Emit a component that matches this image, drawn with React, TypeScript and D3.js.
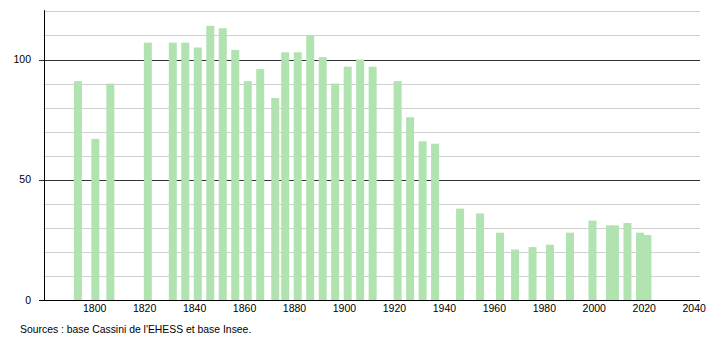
import React from "react";
import * as d3 from "d3";

const years = [1793, 1800, 1806, 1821, 1831, 1836, 1841, 1846, 1851, 1856, 1861, 1866, 1872, 1876, 1881, 1886, 1891, 1896, 1901, 1906, 1911, 1921, 1926, 1931, 1936, 1946, 1954, 1962, 1968, 1975, 1982, 1990, 1999, 2006, 2008, 2013, 2018, 2021];
const population = [91, 67, 90, 107, 107, 107, 105, 114, 113, 104, 91, 96, 84, 103, 103, 110, 101, 90, 97, 100, 97, 91, 76, 66, 65, 38, 36, 28, 21, 22, 23, 28, 33, 31, 31, 32, 28, 27];
const xTicks = [1800, 1820, 1840, 1860, 1880, 1900, 1920, 1940, 1960, 1980, 2000, 2020, 2040];
const yGrid = [10, 20, 30, 40, 50, 60, 70, 80, 90, 100, 110, 120];
const yLabels = [0, 50, 100];
const sourceText = "Sources : base Cassini de l'EHESS et base Insee.";

export default function App() {
  const W = 710, H = 340;
  const x = d3.scaleLinear().domain([1780, 2040]).range([44.7, 694.2]);
  const y = d3.scaleLinear().domain([0, 100]).range([300, 59.5]);
  const left = 44.5, right = 700;
  const barW = 8;
  const font = "'Liberation Sans', Arial, sans-serif";
  return (
    <svg width={W} height={H} style={{ position: "absolute", left: 0, top: 0, background: "#fff" }}>
      {yGrid.map((v) => (
        <line key={"g" + v} x1={v % 50 === 0 ? 39 : left} x2={right} y1={Math.round(y(v)) + 0.5} y2={Math.round(y(v)) + 0.5}
          stroke={v % 50 === 0 ? "#333" : "#cfcfcf"} strokeWidth={1} />
      ))}
      {years.map((yr, i) => (
        <rect key={yr} x={x(yr) - barW / 2 + 0.7} y={y(population[i])} width={barW} height={y(0) - y(population[i])} fill="#b1e3b1" />
      ))}
      <line x1={left} x2={left} y1={y(120.5)} y2={300.5} stroke="#000" strokeWidth={1} />
      <line x1={39} x2={right} y1={300.5} y2={300.5} stroke="#000" strokeWidth={1} />
      {yLabels.map((v) => (
        <text key={"yl" + v} x={31} y={y(v)} dy="0.35em" textAnchor="end" fontFamily={font} fontSize={10.5} fill="#000">{v}</text>
      ))}
      {xTicks.map((t) => (
        <text key={"xl" + t} x={x(t)} y={308} dy="0.35em" textAnchor="middle" fontFamily={font} fontSize={10.5} fill="#000">{t}</text>
      ))}
      <text x={20} y={329} dy="0.35em" fontFamily={font} fontSize={10.4} fill="#000">{sourceText}</text>
    </svg>
  );
}
